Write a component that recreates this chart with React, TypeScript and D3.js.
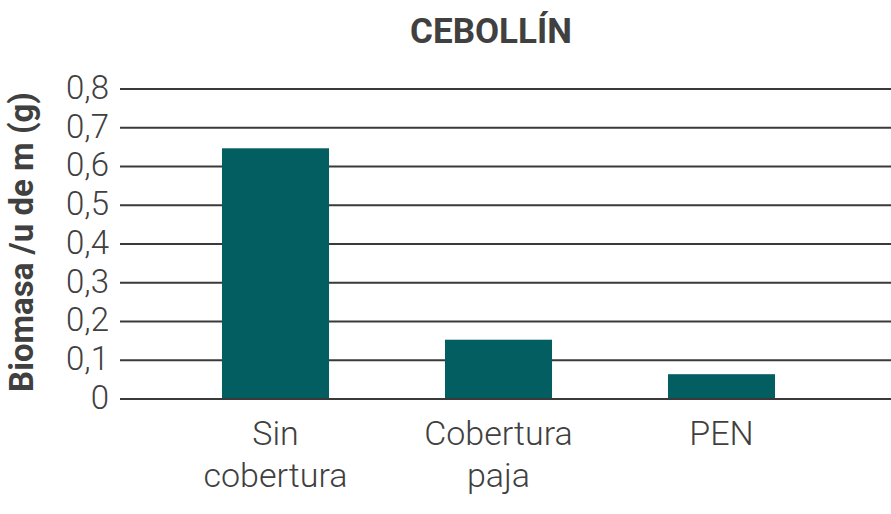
import React from "react";
import * as d3 from "d3";

const title = "CEBOLLÍN";
const yLabel = "Biomasa /u de m (g)";
const categories = ["Sin cobertura", "Cobertura paja", "PEN"];
const categoryLines = [["Sin", "cobertura"], ["Cobertura", "paja"], ["PEN"]];
const values = [0.647, 0.153, 0.064];
const yTicks = [0, 0.1, 0.2, 0.3, 0.4, 0.5, 0.6, 0.7, 0.8];

const W = 891;
const H = 514;
const M = { left: 120, right: 891, top: 89, bottom: 399 };

export default function App() {
  const x = d3.scaleBand<string>().domain(categories).range([164, 833]).paddingInner(0.52).paddingOuter(0.26);
  const y = d3.scaleLinear().domain([0, 0.8]).range([M.bottom, M.top]);
  const fmt = (v: number) => (v === 0 ? "0" : d3.format(".1f")(v).replace(".", ","));
  const textColor = "#404040";
  return (
    <svg width={W} height={H} style={{ position: "absolute", left: 0, top: 0 }} fontFamily="Roboto">
      <text x={491} y={43} textAnchor="middle" fontSize={35} fontWeight={700} fill={textColor}>{title}</text>
      <text transform={`translate(33, ${242}) rotate(-90)`} textAnchor="middle" fontSize={33} fontWeight={700} fill={textColor}>{yLabel}</text>
      {yTicks.map((t) => (
        <g key={t}>
          <line x1={M.left} x2={M.right} y1={y(t)} y2={y(t)} stroke="#3a3a3a" strokeWidth={2} />
          <text x={109} y={y(t)} dy="0.3em" textAnchor="end" fontSize={33} fontWeight={300} fill={textColor}>{fmt(t)}</text>
        </g>
      ))}
      {categories.map((c, i) => (
        <rect key={c} x={x(c)} y={y(values[i])} width={x.bandwidth()} height={y(0) - y(values[i]) - 1} fill="#035e61" />
      ))}
      {categories.map((c, i) => (
        <text key={c} x={(x(c) as number) + x.bandwidth() / 2} y={445} textAnchor="middle" fontSize={34} fontWeight={300} fill={textColor}>
          {categoryLines[i].map((l, j) => (
            <tspan key={j} x={(x(c) as number) + x.bandwidth() / 2} dy={j === 0 ? 0 : 42}>{l}</tspan>
          ))}
        </text>
      ))}
    </svg>
  );
}
